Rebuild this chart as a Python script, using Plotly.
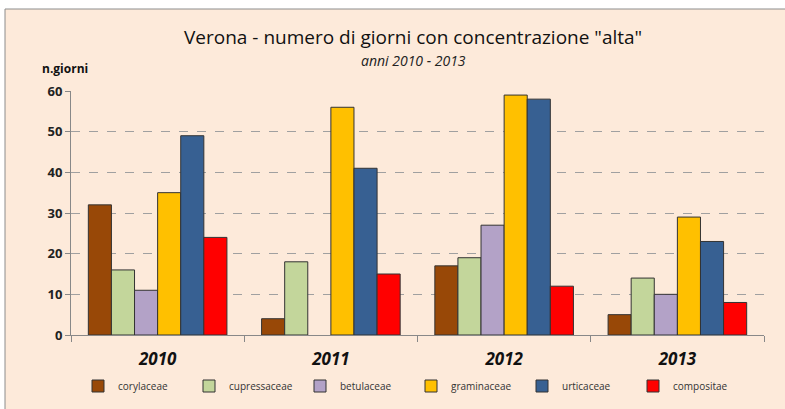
import plotly.graph_objects as go

years = ["2010", "2011", "2012", "2013"]
series_names = ["corylaceae", "cupressaceae", "betulaceae", "graminaceae", "urticaceae", "compositae"]
corylaceae = [32, 4, 17, 5]
cupressaceae = [16, 18, 19, 14]
betulaceae = [11, None, 27, 10]
graminaceae = [35, 56, 59, 29]
urticaceae = [49, 41, 58, 23]
compositae = [24, 15, 12, 8]
y_ticks = [0, 10, 20, 30, 40, 50, 60]

series_values = [corylaceae, cupressaceae, betulaceae, graminaceae, urticaceae, compositae]
colors = ["#984807", "#C3D69B", "#B3A2C7", "#FFC000", "#376092", "#FF0000"]

W, H = 785, 409
L, R, T, B = 71, 21, 91, 74
pw = W - L - R
ph = H - T - B

def px_x(px):
    return (px - L) / pw

def px_y(py):
    return (H - B - py) / ph

fig = go.Figure()
for name, vals, col in zip(series_names, series_values, colors):
    fig.add_trace(go.Bar(
        x=years, y=vals, name=name,
        marker=dict(color=col, line=dict(color="#333333", width=1)),
    ))

fig.update_layout(
    width=W, height=H,
    margin=dict(l=L, r=R, t=T, b=B, autoexpand=False),
    paper_bgcolor="white",
    plot_bgcolor="white",
    barmode="group",
    bargap=0.2,
    bargroupgap=0,
    font=dict(family="Open Sans", color="#222222"),
    showlegend=True,
    legend=dict(
        orientation="h", x=px_x(78), xanchor="left", y=px_y(386), yanchor="middle",
        entrywidth=66, entrywidthmode="pixels",
        font=dict(size=10, color="#333333"),
        bgcolor="rgba(0,0,0,0)",
        itemwidth=30,
    ),
    xaxis=dict(
        type="category",
        tickson="boundaries",
        ticks="outside", ticklen=6, tickcolor="#888888",
        showline=True, linecolor="#888888", linewidth=1,
        tickfont=dict(size=17, color="#111111", weight="bold", style="italic"),
        ticklabelstandoff=9,
        showgrid=False,
    ),
    yaxis=dict(
        range=[0, 60],
        tickvals=y_ticks,
        ticks="outside", ticklen=5, tickcolor="#888888",
        showline=True, linecolor="#888888", linewidth=1,
        showgrid=True, gridcolor="#A0A0A0", griddash="dash", gridwidth=1,
        tickfont=dict(size=13, color="#222222", weight="bold"),
        zeroline=False,
    ),
    shapes=[dict(
        type="rect", xref="paper", yref="paper",
        x0=px_x(5), x1=px_x(790), y0=px_y(9), y1=px_y(415),
        fillcolor="#FDEADA", line=dict(color="#8C8C8C", width=1),
        layer="below",
    )],
    annotations=[
        dict(text='Verona - numero di giorni con concentrazione "alta"',
             xref="paper", yref="paper", x=px_x(413), y=px_y(37),
             xanchor="center", yanchor="middle", showarrow=False,
             font=dict(size=19, color="#111111")),
        dict(text="anni 2010 - 2013",
             xref="paper", yref="paper", x=px_x(413), y=px_y(60),
             xanchor="center", yanchor="middle", showarrow=False,
             font=dict(size=14, color="#222222", style="italic")),
        dict(text="n.giorni",
             xref="paper", yref="paper", x=px_x(40), y=px_y(68),
             xanchor="left", yanchor="middle", showarrow=False,
             font=dict(size=12, color="#111111", weight="bold")),
    ],
)

fig.write_html("out.html")
